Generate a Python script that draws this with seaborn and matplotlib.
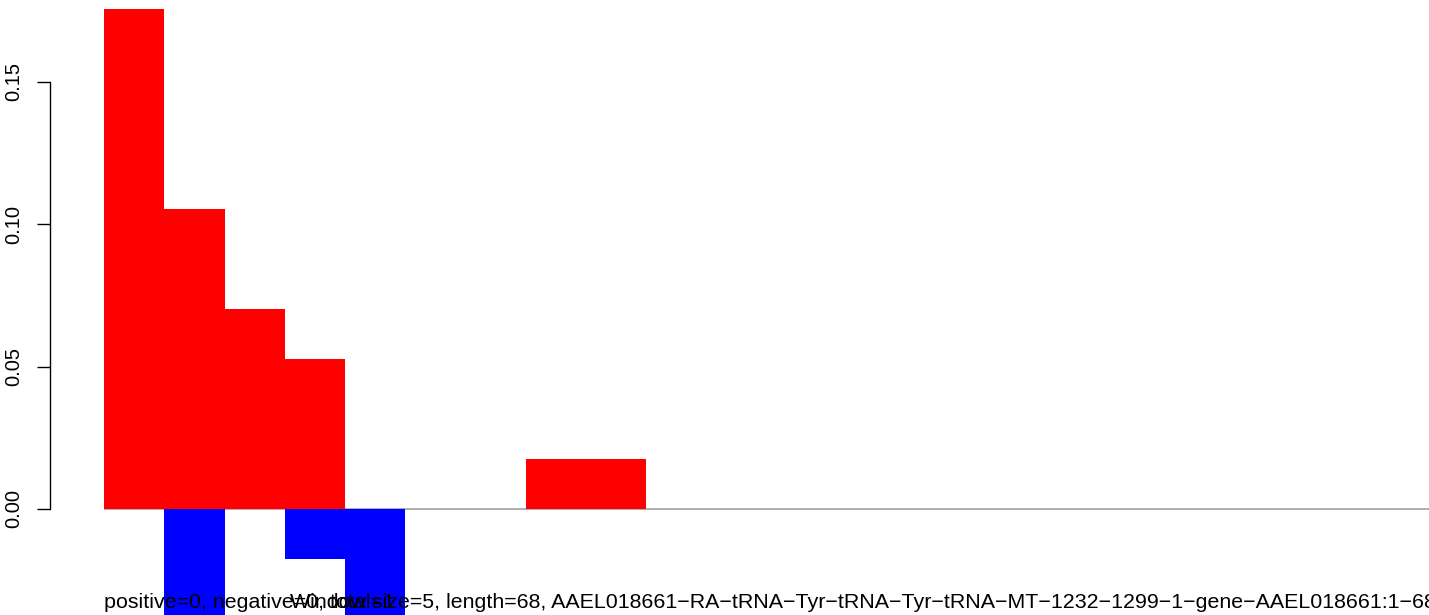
import numpy as np
import pandas as pd
import matplotlib
matplotlib.use('Agg')
import matplotlib.pyplot as plt
import matplotlib.transforms as mtransforms
import seaborn as sns

# window positions along the sequence and per-window fractions
positions = list(range(22))
positive_vals = [0.1754, 0.1053, 0.0702, 0.0526, 0, 0, 0, 0.0175, 0.0175] + [0] * 13
negative_vals = [0, -0.0526, 0, -0.0175, -0.0526] + [0] * 17

y_ticks = [0.00, 0.05, 0.10, 0.15]
y_tick_labels = ['0.00', '0.05', '0.10', '0.15']

stats_text = 'positive=0, negative=0, total=1'
window_text = ('Window size=5, length=68, AAEL018661\u2212RA\u2212tRNA\u2212Tyr\u2212tRNA\u2212Tyr'
               '\u2212tRNA\u2212MT\u22121232\u22121299\u22121\u2212gene\u2212AAEL018661:1\u221268')

sns.set_style('white')
plt.rcParams['font.family'] = ['Liberation Sans', 'DejaVu Sans']

W, H = 1429, 615
fig = plt.figure(figsize=(W / 100, H / 100), dpi=100)
ax = fig.add_axes([104 / W, 0, 1325 / W, 1])

df = pd.DataFrame({'pos': positions, 'positive': positive_vals, 'negative': negative_vals})

ax.axhline(0, color='#A0A0A0', lw=1.2, zorder=0)
sns.barplot(data=df, x='pos', y='positive', native_scale=True, width=1, color='#FF0000',
            saturation=1, linewidth=0, errorbar=None, ax=ax, zorder=2)
sns.barplot(data=df, x='pos', y='negative', native_scale=True, width=1, color='#0000FF',
            saturation=1, linewidth=0, errorbar=None, ax=ax, zorder=2)

ax.set_xlim(-0.5, -0.5 + 1325 / 60.25)
ax.set_ylim(-106 / 2849, 509 / 2849)
ax.set_xlabel('')
ax.set_ylabel('')
ax.set_xticks([])
ax.set_yticks(y_ticks)
ax.tick_params(axis='y', length=9.4, width=1, color='black', left=True, labelleft=False)
for s in ['top', 'right', 'bottom']:
    ax.spines[s].set_visible(False)
ax.spines['left'].set_position(('outward', 38.9))
ax.spines['left'].set_bounds(0, 0.15)
ax.spines['left'].set_color('black')
ax.spines['left'].set_linewidth(1)
ax.patch.set_alpha(0)

# rotated tick labels, R style
trans = mtransforms.blended_transform_factory(fig.transFigure, ax.transData)
for v, lab in zip(y_ticks, y_tick_labels):
    ax.text(14 / W, v, lab, transform=trans, rotation=90, ha='center', va='center',
            fontsize=14.5, color='black', clip_on=False)

fig.text(104 / W, 1 - 608 / H, stats_text, ha='left', va='baseline', fontsize=15.4, color='black')
fig.text(290 / W, 1 - 608 / H, window_text, ha='left', va='baseline', fontsize=15.4, color='black')

plt.savefig('out.png', dpi=100)
plt.close()
